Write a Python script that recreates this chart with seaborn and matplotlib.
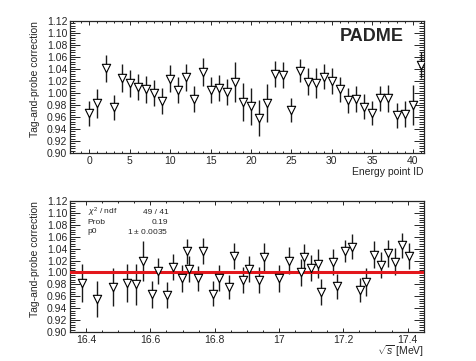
import numpy as np
import pandas as pd
import seaborn as sns
import matplotlib.pyplot as plt
from matplotlib.ticker import MultipleLocator

# Top panel: correction per energy point ID
point_id = list(range(42))
corr_id = [0.966, 0.983, 1.041, 0.976, 1.025, 1.016, 1.010, 1.006, 1.000, 0.987,
           1.024, 1.005, 1.026, 0.990, 1.035, 1.005, 1.008, 1.002, 1.018, 0.985,
           0.978, 0.958, 0.983, 1.032, 1.030, 0.971, 1.037, 1.019, 1.016, 1.027,
           1.020, 1.006, 0.988, 0.990, 0.977, 0.967, 0.991, 0.991, 0.963, 0.965,
           0.980, 1.047]
err_id = [0.021, 0.024, 0.022, 0.021, 0.023, 0.023, 0.022, 0.022, 0.022, 0.022,
          0.023, 0.022, 0.022, 0.022, 0.024, 0.022, 0.022, 0.022, 0.033, 0.032,
          0.031, 0.030, 0.032, 0.022, 0.022, 0.020, 0.019, 0.022, 0.025, 0.021,
          0.021, 0.021, 0.021, 0.021, 0.021, 0.020, 0.021, 0.022, 0.021, 0.021,
          0.034, 0.022]

# Bottom panel: correction vs sqrt(s)
sqrt_s = [16.387, 16.435, 16.483, 16.528, 16.555, 16.578, 16.604, 16.625, 16.651, 16.671,
          16.698, 16.713, 16.719, 16.747, 16.765, 16.796, 16.814, 16.846, 16.861, 16.889,
          16.908, 16.937, 16.954, 16.999, 17.030, 17.068, 17.077, 17.099, 17.122, 17.130,
          17.167, 17.180, 17.206, 17.227, 17.253, 17.270, 17.296, 17.317, 17.340, 17.361,
          17.384, 17.404]
corr_s = [0.982, 0.956, 0.976, 0.983, 0.980, 1.019, 0.963, 1.002, 0.962, 1.009,
          0.990, 1.036, 1.006, 0.990, 1.036, 0.964, 0.991, 0.976, 1.028, 0.988,
          1.006, 0.987, 1.026, 0.990, 1.020, 1.000, 1.026, 1.008, 1.015, 0.967,
          1.018, 0.977, 1.036, 1.043, 0.970, 0.984, 1.030, 1.012, 1.032, 1.018,
          1.046, 1.027]
err_s = [0.032, 0.030, 0.032, 0.032, 0.034, 0.034, 0.022, 0.022, 0.022, 0.022,
         0.022, 0.021, 0.022, 0.021, 0.022, 0.021, 0.022, 0.020, 0.022, 0.022,
         0.022, 0.022, 0.023, 0.022, 0.022, 0.022, 0.021, 0.022, 0.025, 0.022,
         0.022, 0.021, 0.019, 0.021, 0.020, 0.024, 0.022, 0.022, 0.022, 0.023,
         0.021, 0.022]

stat_names = ['$\\chi^2$ / ndf', 'Prob', 'p0']
stat_values = ['49 / 41', '0.19', '1 $\\pm$ 0.0035']
p0 = 1.0

sns.set_style('ticks')
plt.rcParams['font.family'] = ['Liberation Sans', 'DejaVu Sans']
plt.rcParams['mathtext.fontset'] = 'custom'
plt.rcParams['mathtext.rm'] = 'Liberation Sans'
plt.rcParams['mathtext.it'] = 'Liberation Sans:italic'

fig = plt.figure(figsize=(4.76, 3.61), dpi=100)
ax1 = fig.add_axes([70 / 476, 1 - 153 / 361, 354 / 476, 132 / 361])
ax2 = fig.add_axes([70 / 476, 1 - 332 / 361, 354 / 476, 131 / 361])

top = pd.DataFrame({'x': point_id, 'y': corr_id, 'e': err_id})
bot = pd.DataFrame({'x': sqrt_s, 'y': corr_s, 'e': err_s})

for ax, df in [(ax1, top), (ax2, bot)]:
    ax.errorbar(df['x'], df['y'], yerr=df['e'], fmt='none', ecolor='#1a1a1a',
                elinewidth=1.0, capsize=0, zorder=2)
    sns.scatterplot(data=df, x='x', y='y', ax=ax, marker='v', s=36,
                    facecolor='white', edgecolor='black', linewidth=0.8, zorder=4)
    ax.set_ylim(0.90, 1.12)
    ax.yaxis.set_major_locator(MultipleLocator(0.02))
    ax.yaxis.set_minor_locator(MultipleLocator(0.004))
    ax.yaxis.set_major_formatter(plt.FormatStrFormatter('%.2f'))
    ax.tick_params(which='both', direction='in', top=True, right=True,
                   labelsize=7.5, width=0.7, pad=2)
    ax.tick_params(axis='y', which='major', length=7)
    ax.tick_params(axis='y', which='minor', length=3.5)
    ax.tick_params(axis='x', which='major', length=3)
    ax.tick_params(axis='x', which='minor', length=1.6)
    for sp in ax.spines.values():
        sp.set_linewidth(0.9)
    ax.set_ylabel('Tag-and-probe correction', fontsize=7.5, loc='top')
    ax.yaxis.set_label_coords(-0.085, 1.0)

ax1.set_xlim(-2.4, 41.4)
ax1.xaxis.set_major_locator(MultipleLocator(5))
ax1.xaxis.set_minor_locator(MultipleLocator(1))
ax1.set_xlabel('Energy point ID', fontsize=7.5, loc='right', labelpad=1)
ax1.text(0.943, 0.88, 'PADME', transform=ax1.transAxes, ha='right', va='center',
         fontsize=13, fontweight='bold')

ax2.set_xlim(16.350, 17.451)
ax2.xaxis.set_major_locator(MultipleLocator(0.2))
ax2.xaxis.set_minor_locator(MultipleLocator(0.05))
ax2.xaxis.set_major_formatter(plt.FuncFormatter(lambda v, p: f'{v:g}'))
ax2.axhline(p0, color='#e3161b', lw=2.2, zorder=3)
ax2.set_xlabel('$\\sqrt{s}$ [MeV]', fontsize=7.5, loc='right', labelpad=-1)

for i, (n, v) in enumerate(zip(stat_names, stat_values)):
    yy = 0.91 - i * 0.073
    ax2.text(0.05, yy, n, transform=ax2.transAxes, fontsize=6, va='center', ha='left')
    ax2.text(0.278, yy, v, transform=ax2.transAxes, fontsize=6, va='center', ha='right')

fig.savefig('out.png', dpi=100)
